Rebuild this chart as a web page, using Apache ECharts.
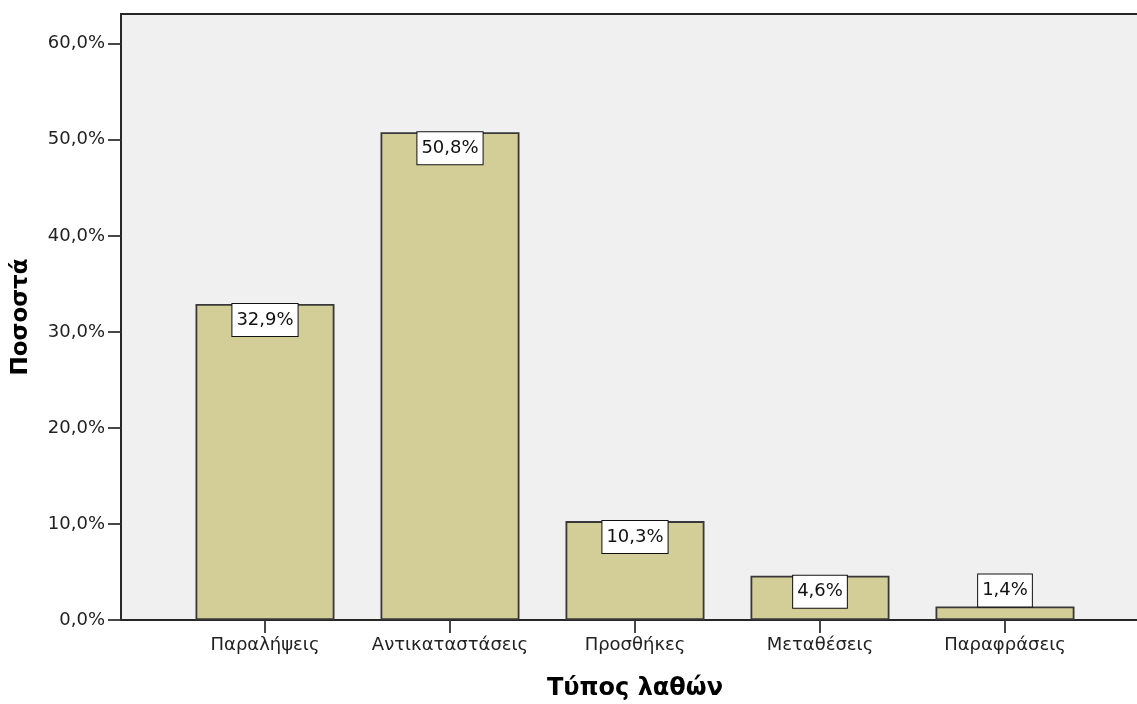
<!DOCTYPE html>
<html>
<head>
<meta charset="utf-8">
<script src="https://cdn.jsdelivr.net/npm/echarts@6/dist/echarts.min.js"></script>
<style>
  html, body { margin: 0; padding: 0; background: #ffffff; }
  #chart { width: 1137px; height: 704px; }
</style>
</head>
<body>
<div id="chart"></div>
<script>
// Error types and their share of all errors (%)
const categories = ['Παραλήψεις', 'Αντικαταστάσεις', 'Προσθήκες', 'Μεταθέσεις', 'Παραφράσεις'];
const percentages = [32.9, 50.8, 10.3, 4.6, 1.4];
const yTicks = [0, 10, 20, 30, 40, 50, 60];
const yMax = 63.1;

const FONT = 'DejaVu Sans';
const fmtPct = v => v.toFixed(1).replace('.', ',') + '%';

const chart = echarts.init(document.getElementById('chart'), null, { renderer: 'canvas' });

const option = {
  animation: false,
  backgroundColor: '#ffffff',
  grid: [
    // frame with shaded plotting area
    { left: 121, right: -3, top: 14, bottom: 84, show: true, outerBoundsMode: 'none',
      backgroundColor: '#f0f0f0', borderColor: '#262626', borderWidth: 1.8 },
    // band where the bars sit
    { left: 172.5, right: 39.5, top: 14, bottom: 84, outerBoundsMode: 'none' }
  ],
  xAxis: [
    { gridIndex: 0, type: 'value', min: 0, max: 1, show: false },
    {
      gridIndex: 1, type: 'category', data: categories,
      name: 'Τύπος λαθών', nameLocation: 'middle', nameGap: 57,
      nameTextStyle: { fontFamily: FONT, fontWeight: 'bold', fontSize: 24, color: '#000' },
      axisLine: { show: false },
      axisTick: { show: true, interval: 0, alignWithLabel: true, length: 13,
        lineStyle: { color: '#333', width: 1.8 } },
      axisLabel: { interval: 0, hideOverlap: false, fontFamily: FONT, fontSize: 18,
        color: '#222', margin: 16 }
    }
  ],
  yAxis: [
    {
      gridIndex: 0, type: 'value', min: 0, max: yMax,
      name: 'Ποσοστά', nameLocation: 'middle', nameGap: 88, nameRotate: 90,
      nameTextStyle: { fontFamily: FONT, fontWeight: 'bold', fontSize: 23, color: '#000' },
      axisLine: { show: true, lineStyle: { color: '#262626', width: 1.8 } },
      axisTick: { show: true, inside: false, length: 13, customValues: yTicks,
        lineStyle: { color: '#333', width: 1.8 } },
      axisLabel: { fontFamily: FONT, fontSize: 18, color: '#222', margin: 16,
        customValues: yTicks, formatter: v => fmtPct(v) },
      splitLine: { show: false }
    },
    { gridIndex: 1, type: 'value', min: 0, max: yMax, show: false }
  ],
  series: [{
    type: 'bar',
    xAxisIndex: 1, yAxisIndex: 1,
    barWidth: 139,
    data: percentages.map(v => ({
      value: v,
      // labels too tall for a short bar sit above it
      label: { position: v < 3 ? 'top' : 'insideTop' }
    })),
    itemStyle: { color: '#d3ce97', borderColor: '#383838', borderWidth: 1.8 },
    label: {
      show: true, distance: 0,
      formatter: p => fmtPct(p.value),
      fontFamily: FONT, fontSize: 18, color: '#111',
      backgroundColor: '#ffffff', borderColor: '#111', borderWidth: 1,
      padding: [7, 4, 7, 4]
    }
  }]
};

chart.setOption(option);
</script>
</body>
</html>
